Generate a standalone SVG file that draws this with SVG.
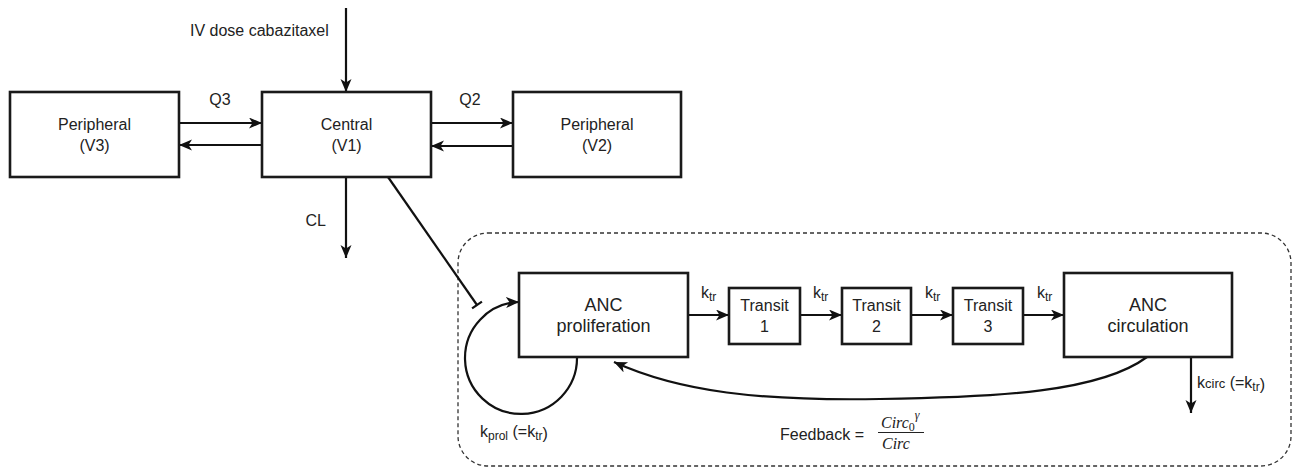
<svg xmlns="http://www.w3.org/2000/svg" width="1293" height="468" viewBox="0 0 1293 468">
<style>
.box{fill:#fff;stroke:#1a1a1a;stroke-width:2.6}
.t{font-family:"Liberation Sans",Arial,sans-serif;font-size:16px;fill:#222}
.big{font-size:18px}
.ln{fill:none;stroke:#111;stroke-width:2.2}
.m{font-family:"Liberation Serif","Times New Roman",serif;font-style:italic;font-size:16px;fill:#222}
</style>
<defs>
<marker id="arr" markerUnits="userSpaceOnUse" markerWidth="15" markerHeight="13" refX="13" refY="5.5" orient="auto" viewBox="0 0 15 13">
<path d="M0,0 L13,5.5 L0,11 L3.5,5.5 Z" fill="#111"/>
</marker>
<marker id="tee" markerUnits="userSpaceOnUse" markerWidth="4" markerHeight="14" refX="2" refY="7" orient="auto" viewBox="0 0 4 14">
<path d="M2,1 L2,13" stroke="#111" stroke-width="2.2"/>
</marker>
</defs>
<rect width="1293" height="468" fill="#fff"/>

<g id="container">
<rect x="458" y="233" width="833" height="233" rx="30" ry="30" fill="none" stroke="#333" stroke-width="1.3" stroke-dasharray="4,3"/>
</g>

<g id="connectors">
<line class="ln" x1="346" y1="8" x2="346" y2="92" marker-end="url(#arr)"/>
<line class="ln" x1="179" y1="123" x2="262" y2="123" marker-end="url(#arr)"/>
<line class="ln" x1="262" y1="145" x2="179" y2="145" marker-end="url(#arr)"/>
<line class="ln" x1="431" y1="123" x2="513" y2="123" marker-end="url(#arr)"/>
<line class="ln" x1="513" y1="146" x2="431" y2="146" marker-end="url(#arr)"/>
<line class="ln" x1="346" y1="177" x2="346" y2="258" marker-end="url(#arr)"/>
<line class="ln" x1="388" y1="177" x2="477" y2="305" marker-end="url(#tee)"/>
<line class="ln" x1="688" y1="315" x2="729" y2="315" marker-end="url(#arr)"/>
<line class="ln" x1="800" y1="315" x2="842" y2="315" marker-end="url(#arr)"/>
<line class="ln" x1="911" y1="315" x2="953" y2="315" marker-end="url(#arr)"/>
<line class="ln" x1="1023" y1="315" x2="1064" y2="315" marker-end="url(#arr)"/>
<line class="ln" x1="1191" y1="357" x2="1191" y2="413" marker-end="url(#arr)"/>
<path class="ln" d="M577,357 A56,56 0 1 1 519,302" marker-end="url(#arr)"/>
<path class="ln" d="M1147,357 C1100,392 1000,397 880,399 C760,401 680,392 614,362" marker-end="url(#arr)"/>
</g>

<g id="labels">
<text class="t" x="190" y="36">IV dose cabazitaxel</text>
<text class="t" x="220" y="105" text-anchor="middle">Q3</text>
<text class="t" x="470" y="105" text-anchor="middle">Q2</text>
<text class="t" x="326" y="226" text-anchor="end">CL</text>
<text class="t" x="701" y="298">k<tspan font-size="12" dy="3">tr</tspan></text>
<text class="t" x="813" y="298">k<tspan font-size="12" dy="3">tr</tspan></text>
<text class="t" x="925" y="298">k<tspan font-size="12" dy="3">tr</tspan></text>
<text class="t" x="1037" y="298">k<tspan font-size="12" dy="3">tr</tspan></text>
<text class="t" x="1197" y="388">k<tspan font-size="13">circ</tspan> (=k<tspan font-size="12" dy="3">tr</tspan><tspan dy="-1">)</tspan></text>
<text class="t" x="480" y="437">k<tspan font-size="12" dy="3">prol</tspan><tspan dy="-3"> (=k</tspan><tspan font-size="12" dy="3">tr</tspan><tspan dy="-1">)</tspan></text>
<text class="t" x="780" y="440">Feedback =</text>
<text class="m" x="881" y="428">Circ<tspan font-style="normal" font-size="12" dy="3">0</tspan><tspan font-size="12" dy="-12">γ</tspan></text>
<line x1="878" y1="432.5" x2="924" y2="432.5" stroke="#222" stroke-width="1"/>
<text class="m" x="882" y="449">Circ</text>
</g>

<g id="node-v3">
<rect class="box" x="10" y="92" width="169" height="85"/>
<text class="t" x="94.5" y="130" text-anchor="middle">Peripheral</text>
<text class="t" x="94.5" y="151" text-anchor="middle">(V3)</text>
</g>
<g id="node-v1">
<rect class="box" x="262" y="92" width="169" height="85"/>
<text class="t" x="346.5" y="130" text-anchor="middle">Central</text>
<text class="t" x="346.5" y="151" text-anchor="middle">(V1)</text>
</g>
<g id="node-v2">
<rect class="box" x="513" y="92" width="168" height="85"/>
<text class="t" x="597" y="130" text-anchor="middle">Peripheral</text>
<text class="t" x="597" y="151" text-anchor="middle">(V2)</text>
</g>
<g id="node-prolif">
<rect class="box" x="519" y="273" width="169" height="84"/>
<text class="t big" x="603.5" y="311" text-anchor="middle">ANC</text>
<text class="t big" x="603.5" y="332" text-anchor="middle">proliferation</text>
</g>
<g id="node-transit1">
<rect class="box" x="729" y="288" width="71" height="56"/>
<text class="t" x="764.5" y="311" text-anchor="middle">Transit</text>
<text class="t" x="764.5" y="332" text-anchor="middle">1</text>
</g>
<g id="node-transit2">
<rect class="box" x="842" y="288" width="69" height="56"/>
<text class="t" x="876.5" y="311" text-anchor="middle">Transit</text>
<text class="t" x="876.5" y="332" text-anchor="middle">2</text>
</g>
<g id="node-transit3">
<rect class="box" x="953" y="288" width="70" height="56"/>
<text class="t" x="988" y="311" text-anchor="middle">Transit</text>
<text class="t" x="988" y="332" text-anchor="middle">3</text>
</g>
<g id="node-circ">
<rect class="box" x="1064" y="273" width="168" height="84"/>
<text class="t big" x="1148" y="311" text-anchor="middle">ANC</text>
<text class="t big" x="1148" y="332" text-anchor="middle">circulation</text>
</g>
</svg>
